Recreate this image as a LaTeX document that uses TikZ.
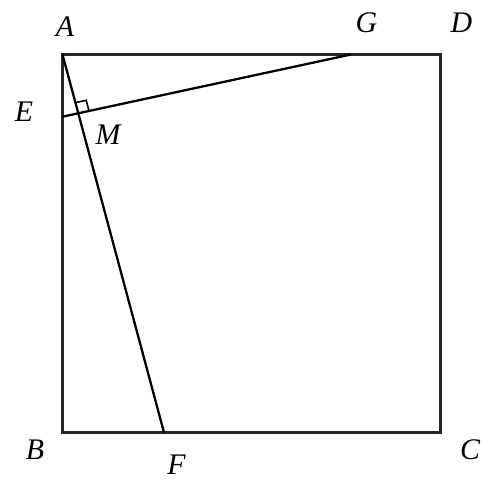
\documentclass[tikz,border=0pt]{standalone}
\usepackage{fontspec}
\setmainfont{Liberation Serif}
\usetikzlibrary{calc}
\tikzset{
	lbl/.style={font=\fontsize{17}{20}\selectfont\itshape, inner sep=0pt},
}
\begin{document}
\begin{tikzpicture}[line width=1.3pt, line join=miter]
	\useasboundingbox (0,0) rectangle (9.8,9.74);
	%points
	\coordinate (A) at (1.25,8.65);
	\coordinate (D) at (8.81,8.65);
	\coordinate (B) at (1.25,1.09);
	\coordinate (C) at (8.81,1.09);
	\coordinate (G) at (7.02,8.65);
	\coordinate (E) at (1.25,7.406);
	\coordinate (F) at (3.28,1.09);
	\coordinate (M) at (intersection of A--F and E--G);
	
	%square and lines
	\draw[line width=1.5pt, black!85] (A) -- (D) -- (C) -- (B) -- cycle; %square
	\draw (A) -- (F); %AF
	\draw (E) -- (G); %EG
	
	%right angle mark
	\coordinate (m1) at ($(M)!0.22cm!(A)$);
	\coordinate (m2) at ($(M)!0.22cm!(G)$);
	\draw[line width=0.9pt] (m1) -- ($(m1)+(m2)-(M)$) -- (m2);
	
	%labels
	\node[lbl] (lA) at (1.30,9.21) {A};
	\node[lbl] (lG) at (7.33,9.28) {G};
	\node[lbl] (lD) at (9.23,9.28) {D};
	\node[lbl] (lE) at (0.48,7.51) {E};
	\node[lbl] (lM) at (2.16,7.04) {M};
	\node[lbl] (lB) at (0.70,0.74) {B};
	\node[lbl] (lF) at (3.53,0.44) {F};
	\node[lbl] (lC) at (9.40,0.74) {C};
\end{tikzpicture}
\end{document}
